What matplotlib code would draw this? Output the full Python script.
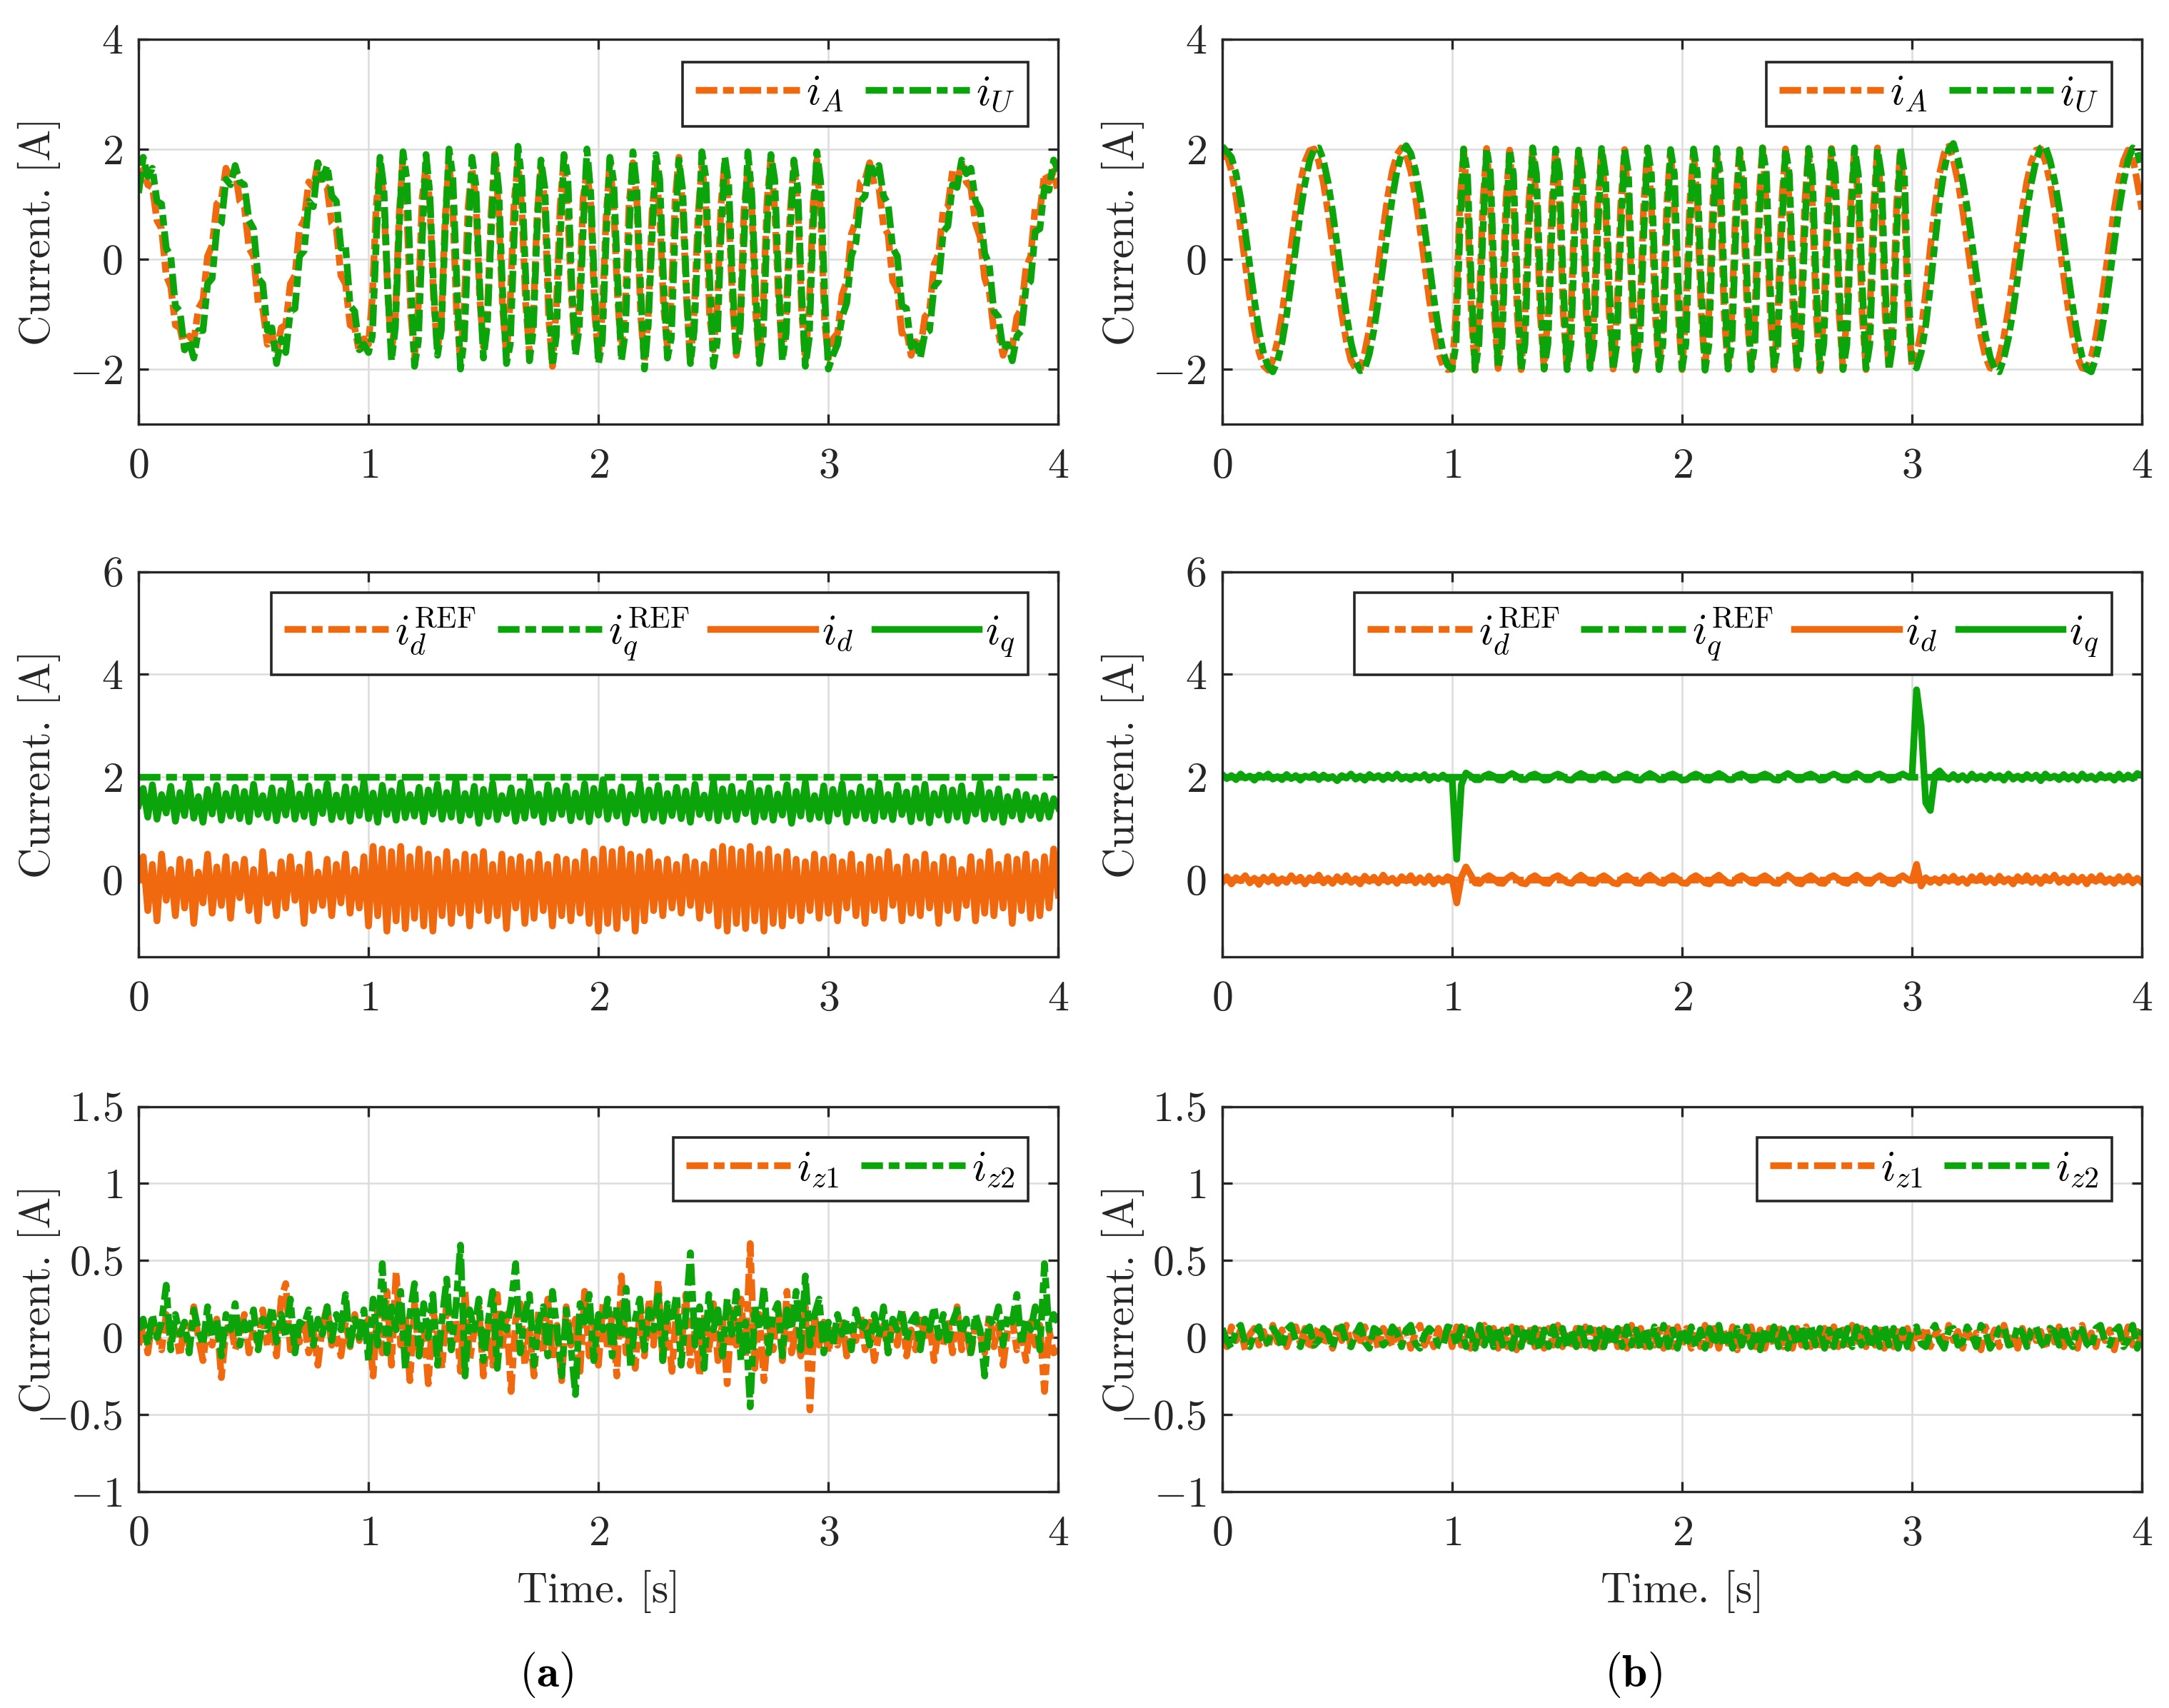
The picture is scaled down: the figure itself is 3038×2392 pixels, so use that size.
import numpy as np
import matplotlib
matplotlib.use('Agg')
import matplotlib.pyplot as plt
from matplotlib.ticker import FuncFormatter

# ---- data (each series split into 0-1 s, 1-3 s, 3-4 s) ----
# top row: phase currents
iA_a_1 = [1.30, 1.62, 1.35, 1.30, 0.70, 0.55, -0.30, -0.50, -1.20, -1.25,
          -1.65, -1.40, -1.50, -0.90, -0.75, 0.05, 0.25, 1.00, 1.10, 1.65,
          1.45, 1.60, 1.05, 0.95, 0.20, 0.05, -0.80, -0.90, -1.55, -1.35,
          -1.72, -1.25, -1.20, -0.45, -0.30, 0.55, 0.70, 1.40, 1.30, 1.75,
          1.35, 1.30, 0.65, 0.55, -0.30, -0.45, -1.20, -1.25, -1.70, -1.45]
iA_a_2 = [-1.55, -0.70, 0.95, 1.75, 1.05, -0.60,
          -1.70, -1.05, 0.80, 1.85, 0.85, -0.95,
          -1.80, -0.85, 1.10, 1.70, 1.00, -0.75,
          -1.65, -1.10, 0.75, 1.80, 0.90, -1.00,
          -1.85, -0.80, 0.95, 1.65, 1.10, -0.70,
          -1.60, -1.00, 0.85, 1.90, 0.80, -0.90,
          -1.75, -0.75, 1.05, 1.75, 0.95, -0.80,
          -1.70, -1.05, 0.80, 1.70, 1.05, -1.05,
          -1.95, -0.90, 0.95, 1.85, 0.85, -0.75,
          -1.65, -0.80, 1.10, 1.60, 1.00, -0.95,
          -1.80, -1.00, 0.75, 1.80, 0.90, -0.70,
          -1.70, -0.85, 1.00, 1.75, 1.10, -1.00,
          -1.85, -1.05, 0.85, 1.65, 0.80, -0.85,
          -1.60, -0.75, 1.05, 1.85, 0.95, -0.75,
          -1.90, -0.95, 0.80, 1.70, 1.05, -1.00,
          -1.65, -0.85, 1.00, 1.80, 0.85, -0.80,
          -1.75, -1.10, 0.90, 1.65, 1.00, -0.95,
          -1.80, -0.80, 1.05, 1.85, 0.90, -0.70,
          -1.70, -1.00, 0.80, 1.75, 1.05, -0.90,
          -1.85, -0.90, 0.95, 1.80, 0.85, -1.10]
iA_a_3 = [-1.80, -1.45, -1.35, -0.65, -0.40, 0.45, 0.70, 1.40, 1.45, 1.75,
          1.35, 1.30, 0.60, 0.45, -0.40, -0.55, -1.35, -1.30, -1.75, -1.50,
          -1.65, -1.05, -0.95, -0.10, 0.10, 0.90, 0.95, 1.60, 1.40, 1.75,
          1.40, 1.30, 0.65, 0.40, -0.35, -0.60, -1.30, -1.35, -1.75, -1.50,
          -1.60, -1.05, -0.90, -0.15, 0.05, 0.95, 0.85, 1.55, 1.40, 1.60, 1.20]

iU_a_1 = [1.20, 1.85, 1.50, 1.65, 1.05, 1.00, 0.20, 0.05, -0.85, -0.95,
          -1.65, -1.50, -1.80, -1.30, -1.30, -0.45, -0.35, 0.55, 0.65, 1.45,
          1.35, 1.70, 1.40, 1.35, 0.70, 0.55, -0.35, -0.45, -1.30, -1.25,
          -1.90, -1.45, -1.70, -0.95, -0.90, 0.05, 0.15, 1.05, 0.95, 1.75,
          1.45, 1.70, 1.15, 1.05, 0.20, 0.25, -0.85, -0.95, -1.65, -1.55]
iU_a_2 = [-1.70, -1.40, 0.30, 1.85, 1.30, -0.50,
          -1.85, -1.25, 0.55, 1.95, 1.45, -0.30,
          -1.95, -1.50, 0.35, 1.90, 1.20, -0.55,
          -1.75, -1.30, 0.50, 2.00, 1.50, -0.35,
          -2.00, -1.45, 0.30, 1.85, 1.35, -0.45,
          -1.80, -1.20, 0.45, 1.95, 1.25, -0.60,
          -1.90, -1.55, 0.40, 2.05, 1.45, -0.30,
          -1.85, -1.30, 0.55, 1.80, 1.30, -0.50,
          -1.95, -1.40, 0.30, 1.90, 1.50, -0.40,
          -1.75, -1.25, 0.50, 2.00, 1.20, -0.55,
          -1.90, -1.50, 0.35, 1.85, 1.40, -0.35,
          -1.85, -1.35, 0.45, 1.95, 1.30, -0.50,
          -2.00, -1.20, 0.40, 1.90, 1.45, -0.40,
          -1.80, -1.45, 0.50, 1.80, 1.25, -0.55,
          -1.90, -1.30, 0.30, 1.95, 1.50, -0.30,
          -1.95, -1.50, 0.45, 1.85, 1.35, -0.45,
          -1.75, -1.25, 0.35, 1.95, 1.20, -0.50,
          -1.90, -1.40, 0.55, 1.90, 1.45, -0.35,
          -1.85, -1.35, 0.40, 1.80, 1.30, -0.55,
          -1.95, -1.45, 0.50, 1.95, 1.40, -0.60]
iU_a_3 = [-2.00, -1.75, -1.55, -1.05, -0.80, 0.05, 0.30, 1.05, 1.15, 1.75,
          1.55, 1.70, 1.15, 1.00, 0.20, 0.05, -0.85, -0.90, -1.60, -1.45,
          -1.80, -1.35, -1.30, -0.50, -0.40, 0.50, 0.60, 1.35, 1.30, 1.80,
          1.55, 1.65, 1.05, 0.90, 0.10, -0.10, -0.95, -1.05, -1.65, -1.55,
          -1.85, -1.40, -1.30, -0.50, -0.40, 0.50, 0.55, 1.30, 1.25, 1.80, 1.60]

iA_b_1 = [1.85, 1.90, 1.60, 1.14, 0.56, -0.08, -0.71, -1.26, -1.69, -1.94,
          -2.02, -1.84, -1.50, -1.00, -0.40, 0.24, 0.86, 1.38, 1.77, 1.97,
          2.00, 1.77, 1.39, 0.86, 0.24, -0.40, -1.00, -1.50, -1.84, -1.99,
          -2.02, -1.69, -1.27, -0.71, -0.08, 0.55, 1.14, 1.60, 1.90, 2.02,
          1.90, 1.60, 1.14, 0.56, -0.08, -0.71, -1.26, -1.69, -1.94, -2.01]
iA_b_2 = [-2.00, -1.00, 1.00, 2.00, 1.00, -1.00,
          -2.02, -1.01, 0.99, 2.01, 1.00, -0.99,
          -1.99, -1.00, 1.01, 1.98, 0.99, -1.01,
          -2.01, -0.99, 1.00, 2.02, 1.01, -1.00,
          -2.00, -1.01, 0.99, 1.99, 1.00, -0.99,
          -2.03, -1.00, 1.00, 2.00, 0.99, -1.00,
          -1.98, -1.01, 1.01, 2.01, 1.00, -1.01,
          -2.00, -0.99, 0.99, 1.99, 1.01, -0.99,
          -2.02, -1.00, 1.00, 2.02, 1.00, -1.00,
          -2.00, -1.01, 0.99, 1.98, 0.99, -1.01,
          -2.01, -1.00, 1.01, 2.00, 1.00, -0.99,
          -1.99, -0.99, 1.00, 2.01, 1.01, -1.00,
          -2.02, -1.01, 0.99, 1.99, 1.00, -1.01,
          -2.00, -1.00, 1.00, 2.02, 0.99, -0.99,
          -2.01, -0.99, 1.01, 2.00, 1.00, -1.00,
          -1.99, -1.01, 0.99, 1.98, 1.01, -1.01,
          -2.03, -1.00, 1.00, 2.01, 1.00, -0.99,
          -2.00, -1.01, 1.01, 1.99, 0.99, -1.00,
          -2.01, -0.99, 0.99, 2.02, 1.00, -1.01,
          -2.00, -1.00, 1.00, 2.00, 1.01, -1.00]
iA_b_3 = [-1.95, -1.75, -1.30, -0.60, 0.20, 0.95, 1.55, 1.92, 2.05, 1.80,
          1.41, 0.91, 0.31, -0.31, -0.91, -1.41, -1.78, -1.98, -2.00, -1.78,
          -1.41, -0.91, -0.31, 0.31, 0.91, 1.41, 1.78, 1.98, 2.00, 1.78,
          1.41, 0.91, 0.31, -0.31, -0.91, -1.41, -1.78, -1.98, -2.00, -1.78,
          -1.41, -0.91, -0.31, 0.31, 0.91, 1.41, 1.78, 1.98, 1.85, 1.40, 0.90]

iU_b_1 = [2.05, 1.95, 1.85, 1.55, 1.10, 0.50, -0.12, -0.75, -1.30, -1.72,
          -1.96, -2.05, -1.86, -1.52, -1.02, -0.42, 0.22, 0.85, 1.38, 1.78,
          2.00, 2.02, 1.80, 1.40, 0.87, 0.25, -0.40, -1.00, -1.52, -1.86,
          -2.03, -2.00, -1.72, -1.28, -0.73, -0.10, 0.53, 1.12, 1.60, 1.92,
          2.06, 1.92, 1.62, 1.15, 0.57, -0.07, -0.70, -1.25, -1.68, -1.93]
iU_b_2 = [-2.00, -1.55, 0.45, 2.00, 1.55, -0.45,
          -2.01, -1.54, 0.44, 2.01, 1.56, -0.46,
          -1.99, -1.56, 0.46, 1.99, 1.54, -0.44,
          -2.02, -1.55, 0.45, 2.02, 1.55, -0.45,
          -2.00, -1.54, 0.44, 2.00, 1.56, -0.46,
          -2.01, -1.56, 0.46, 1.98, 1.54, -0.44,
          -1.99, -1.55, 0.45, 2.01, 1.55, -0.45,
          -2.02, -1.54, 0.44, 2.00, 1.56, -0.46,
          -2.00, -1.56, 0.46, 2.02, 1.54, -0.44,
          -2.01, -1.55, 0.45, 1.99, 1.55, -0.45,
          -1.99, -1.54, 0.44, 2.00, 1.56, -0.46,
          -2.02, -1.56, 0.46, 2.01, 1.54, -0.44,
          -2.00, -1.55, 0.45, 1.98, 1.55, -0.45,
          -2.01, -1.54, 0.44, 2.02, 1.56, -0.46,
          -1.99, -1.56, 0.46, 2.00, 1.54, -0.44,
          -2.02, -1.55, 0.45, 2.01, 1.55, -0.45,
          -2.00, -1.54, 0.44, 1.99, 1.56, -0.46,
          -2.01, -1.56, 0.46, 2.02, 1.54, -0.44,
          -1.99, -1.55, 0.45, 2.00, 1.55, -0.45,
          -2.02, -1.54, 0.44, 2.01, 1.56, -0.50]
iU_b_3 = [-1.90, -1.98, -1.70, -1.20, -0.50, 0.30, 1.05, 1.62, 2.00, 2.10,
          1.82, 1.43, 0.93, 0.33, -0.29, -0.89, -1.40, -1.78, -2.00, -2.05,
          -1.80, -1.43, -0.93, -0.33, 0.29, 0.89, 1.40, 1.80, 2.02, 2.05,
          1.80, 1.43, 0.93, 0.33, -0.29, -0.89, -1.40, -1.78, -2.00, -2.05,
          -1.80, -1.43, -0.93, -0.33, 0.29, 0.89, 1.40, 1.80, 2.02, 1.95, 1.62]

# middle row: dq currents
t_ref = [0.0, 4.0]
idref = [0.0, 0.0]
iqref = [2.0, 2.0]

iq_a_1 = [1.45, 1.78, 1.22, 1.85, 1.18, 1.66, 1.30, 1.82, 1.14, 1.70,
          1.25, 1.88, 1.20, 1.62, 1.12, 1.76, 1.28, 1.84, 1.16, 1.68,
          1.24, 1.80, 1.19, 1.72, 1.13, 1.86, 1.27, 1.64, 1.21, 1.79,
          1.15, 1.74, 1.26, 1.90, 1.18, 1.67, 1.23, 1.83, 1.11, 1.71,
          1.29, 1.87, 1.17, 1.65, 1.22, 1.81, 1.14, 1.77, 1.25, 1.92]
iq_a_2 = [1.19, 1.69, 1.12, 1.84, 1.27, 1.73, 1.16, 1.89, 1.21, 1.66,
          1.24, 1.80, 1.13, 1.75, 1.28, 1.86, 1.18, 1.70, 1.22, 1.94,
          1.15, 1.68, 1.26, 1.82, 1.10, 1.76, 1.23, 1.88, 1.17, 1.64,
          1.29, 1.79, 1.14, 1.72, 1.20, 1.91, 1.25, 1.67, 1.12, 1.85,
          1.19, 1.74, 1.27, 1.83, 1.15, 1.69, 1.22, 1.87, 1.13, 1.78,
          1.26, 1.95, 1.18, 1.71, 1.24, 1.81, 1.11, 1.66, 1.28, 1.89,
          1.16, 1.75, 1.21, 1.84, 1.14, 1.68, 1.25, 1.80, 1.19, 1.73,
          1.12, 1.86, 1.27, 1.65, 1.20, 1.92, 1.15, 1.77, 1.23, 1.82,
          1.17, 1.70, 1.29, 1.88, 1.13, 1.74, 1.22, 1.79, 1.16, 1.67,
          1.26, 1.85, 1.10, 1.72, 1.24, 1.90, 1.18, 1.64, 1.21, 1.83]
iq_a_3 = [1.14, 1.76, 1.28, 1.87, 1.12, 1.69, 1.25, 1.81, 1.19, 1.73,
          1.15, 1.89, 1.23, 1.66, 1.17, 1.84, 1.27, 1.71, 1.13, 1.78,
          1.20, 1.86, 1.11, 1.68, 1.26, 1.80, 1.16, 1.75, 1.22, 1.83,
          1.14, 1.65, 1.28, 1.88, 1.18, 1.70, 1.21, 1.77, 1.12, 1.62,
          1.24, 1.72, 1.17, 1.66, 1.25, 1.60, 1.19, 1.64, 1.22, 1.58, 1.40]

id_a_1 = [0.10, 0.45, -0.60, 0.30, -0.80, 0.50, -0.40, 0.20, -0.70, 0.40,
          -0.55, 0.35, -0.85, 0.15, -0.45, 0.50, -0.65, 0.25, -0.50, 0.45,
          -0.75, 0.30, -0.35, 0.40, -0.60, 0.20, -0.80, 0.55, -0.45, 0.10,
          -0.70, 0.35, -0.55, 0.45, -0.40, 0.25, -0.85, 0.50, -0.60, 0.15,
          -0.50, 0.40, -0.70, 0.30, -0.45, 0.50, -0.65, 0.20, -0.55, 0.45]
id_a_2 = [-0.90, 0.65, -0.70, 0.60, -1.00, 0.55, -0.80, 0.65, -0.95, 0.45,
          -0.75, 0.60, -0.90, 0.50, -1.00, 0.40, -0.70, 0.55, -0.85, 0.35,
          -0.65, 0.50, -0.90, 0.45, -0.60, 0.55, -0.80, 0.30, -0.70, 0.50,
          -0.95, 0.40, -0.55, 0.45, -0.85, 0.35, -0.75, 0.50, -0.60, 0.30,
          -0.90, 0.45, -0.70, 0.40, -0.80, 0.35, -0.65, 0.55, -0.85, 0.40,
          -1.00, 0.60, -0.85, 0.55, -0.95, 0.60, -0.75, 0.50, -1.00, 0.45,
          -0.80, 0.55, -0.60, 0.35, -0.70, 0.40, -0.55, 0.30, -0.65, 0.45,
          -0.50, 0.35, -0.75, 0.30, -0.60, 0.55, -0.90, 0.65, -1.00, 0.60,
          -0.85, 0.55, -0.95, 0.65, -0.80, 0.50, -1.00, 0.60, -0.85, 0.45,
          -0.90, 0.55, -0.70, 0.40, -0.80, 0.35, -0.60, 0.50, -0.75, 0.40]
id_a_3 = [-0.65, 0.45, -0.80, 0.35, -0.55, 0.50, -0.70, 0.30, -0.85, 0.45,
          -0.60, 0.40, -0.75, 0.55, -0.50, 0.25, -0.80, 0.45, -0.65, 0.35,
          -0.70, 0.50, -0.55, 0.30, -0.85, 0.45, -0.60, 0.40, -0.75, 0.20,
          -0.50, 0.45, -0.80, 0.35, -0.65, 0.55, -0.70, 0.30, -0.55, 0.45,
          -0.85, 0.40, -0.60, 0.50, -0.75, 0.35, -0.70, 0.45, -0.55, 0.60, -0.30]

iq_b_1 = [2.05, 1.97, 2.03, 1.95, 2.06, 1.98, 2.02, 1.94, 2.04, 1.99,
          2.06, 1.96, 2.01, 1.95, 2.05, 1.97, 2.03, 1.94, 2.02, 1.99,
          2.05, 1.95, 2.04, 1.97, 2.01, 1.93, 2.03, 1.98, 2.06, 1.96,
          2.02, 1.94, 2.05, 1.98, 2.03, 1.95, 2.04, 1.97, 2.06, 1.96,
          2.01, 1.95, 2.03, 1.98, 2.05, 1.94, 2.02, 1.97, 2.04, 1.96]
iq_b_2 = [1.98, 0.40, 1.85, 2.08, 2.02, 1.95, 1.95, 2.02, 2.06, 2.02,
          1.95, 1.94, 2.02, 2.07, 2.02, 1.95, 1.95, 2.03, 2.06, 2.01,
          1.94, 1.95, 2.02, 2.06, 2.02, 1.95, 1.94, 2.02, 2.07, 2.02,
          1.95, 1.95, 2.03, 2.06, 2.01, 1.94, 1.95, 2.02, 2.06, 2.02,
          1.95, 1.94, 2.02, 2.07, 2.02, 1.95, 1.95, 2.03, 2.06, 2.01,
          1.94, 1.95, 2.02, 2.06, 2.02, 1.95, 1.94, 2.02, 2.07, 2.02,
          1.95, 1.95, 2.03, 2.06, 2.01, 1.94, 1.95, 2.02, 2.06, 2.02,
          1.95, 1.94, 2.02, 2.07, 2.02, 1.95, 1.95, 2.03, 2.06, 2.01,
          1.94, 1.95, 2.02, 2.06, 2.02, 1.95, 1.94, 2.02, 2.07, 2.02,
          1.95, 1.95, 2.03, 2.06, 2.01, 1.94, 1.95, 2.02, 2.06, 2.01]
iq_b_3 = [2.00, 3.70, 3.00, 1.50, 1.35, 2.05, 2.12, 2.02, 1.96, 2.05,
          1.95, 2.03, 1.94, 2.06, 1.97, 2.02, 1.95, 2.05, 1.98, 2.03,
          1.94, 2.06, 1.96, 2.02, 1.95, 2.05, 1.97, 2.04, 1.93, 2.06,
          1.98, 2.02, 1.95, 2.05, 1.96, 2.03, 1.94, 2.06, 1.97, 2.02,
          1.95, 2.05, 1.98, 2.03, 1.94, 2.06, 1.96, 2.04, 1.97, 2.07, 2.03]

id_b_1 = [-0.05, 0.06, -0.08, 0.04, -0.02, 0.08, -0.06, 0.03, -0.09, 0.05,
          -0.04, 0.07, -0.07, 0.02, -0.05, 0.08, -0.03, 0.05, -0.08, 0.04,
          -0.02, 0.09, -0.06, 0.03, -0.07, 0.06, -0.04, 0.08, -0.05, 0.02,
          -0.08, 0.07, -0.03, 0.05, -0.06, 0.09, -0.04, 0.03, -0.07, 0.06,
          -0.02, 0.08, -0.06, 0.04, -0.05, 0.07, -0.08, 0.03, -0.04, 0.06]
id_b_2 = [0.02, -0.45, 0.05, 0.25, 0.10, -0.06, -0.07, 0.03, 0.08, 0.02,
          -0.06, -0.07, 0.03, 0.09, 0.02, -0.06, -0.08, 0.03, 0.08, 0.01,
          -0.06, -0.07, 0.04, 0.08, 0.02, -0.05, -0.07, 0.03, 0.09, 0.02,
          -0.06, -0.07, 0.03, 0.08, 0.02, -0.06, -0.08, 0.03, 0.08, 0.01,
          -0.06, -0.07, 0.04, 0.09, 0.02, -0.05, -0.07, 0.03, 0.08, 0.02,
          -0.06, -0.07, 0.03, 0.08, 0.02, -0.06, -0.08, 0.03, 0.09, 0.01,
          -0.06, -0.07, 0.04, 0.08, 0.02, -0.05, -0.07, 0.03, 0.08, 0.02,
          -0.06, -0.07, 0.03, 0.09, 0.02, -0.06, -0.08, 0.03, 0.08, 0.01,
          -0.06, -0.07, 0.04, 0.08, 0.02, -0.05, -0.07, 0.03, 0.09, 0.02,
          -0.06, -0.07, 0.03, 0.08, 0.02, -0.06, -0.08, 0.03, 0.08, 0.01]
id_b_3 = [-0.02, 0.30, -0.12, 0.04, -0.05, 0.02, -0.06, 0.05, -0.03, 0.07,
          -0.05, 0.02, -0.07, 0.06, -0.02, 0.08, -0.05, 0.03, -0.06, 0.07,
          -0.04, 0.02, -0.08, 0.06, -0.03, 0.08, -0.05, 0.04, -0.07, 0.06,
          -0.02, 0.09, -0.05, 0.03, -0.06, 0.07, -0.04, 0.05, -0.08, 0.06,
          -0.03, 0.08, -0.05, 0.02, -0.07, 0.06, -0.04, 0.07, -0.06, 0.03, -0.05]

# bottom row: zero-sequence currents
iz1_a_1 = [-0.05, 0.08, -0.10, 0.12, 0.02, -0.08, 0.15, -0.02, 0.05, -0.12,
           0.10, -0.06, 0.20, 0.00, -0.15, 0.08, -0.05, 0.12, -0.26, 0.05,
           0.10, -0.08, 0.02, 0.15, -0.10, 0.06, -0.04, 0.18, -0.06, 0.08,
           -0.12, 0.25, 0.35, -0.08, 0.10, -0.03, 0.12, -0.10, 0.05, -0.18,
           0.08, 0.20, -0.05, 0.02, -0.12, 0.10, -0.06, 0.15, -0.02, 0.06]
iz1_a_2 = [0.12, -0.25, 0.20, -0.10, 0.30, -0.18, 0.43, -0.05, 0.15, -0.28,
           0.22, -0.12, 0.08, -0.30, 0.18, 0.02, -0.20, 0.25, -0.08, 0.12,
           -0.22, 0.30, -0.15, 0.05, 0.20, -0.25, 0.10, -0.18, 0.28, -0.08,
           0.15, -0.35, 0.12, 0.22, -0.18, 0.05, -0.25, 0.18, -0.10, 0.25,
           -0.15, 0.08, -0.28, 0.20, -0.05, 0.12, -0.22, 0.30, -0.12, 0.10,
           -0.18, 0.22, -0.08, 0.15, -0.25, 0.40, -0.10, 0.05, -0.20, 0.18,
           -0.12, 0.25, -0.05, 0.37, -0.15, 0.10, -0.22, 0.20, -0.08, 0.28,
           -0.18, 0.05, -0.25, 0.15, -0.10, 0.22, -0.15, 0.12, -0.30, 0.18,
           -0.05, 0.25, -0.12, 0.61, -0.20, 0.15, -0.28, 0.10, -0.08, 0.22,
           -0.15, 0.30, -0.10, 0.05, -0.12, 0.20, -0.47, 0.15, -0.05, 0.10]
iz1_a_3 = [-0.10, 0.08, -0.05, 0.12, -0.12, 0.05, -0.02, 0.15, -0.08, 0.10,
           -0.15, 0.02, 0.08, -0.10, 0.12, -0.05, 0.18, -0.12, 0.05, -0.08,
           0.15, -0.02, 0.10, -0.15, 0.06, -0.05, 0.12, -0.10, 0.20, -0.08,
           0.05, -0.12, 0.10, 0.02, -0.10, 0.15, -0.06, 0.08, -0.18, 0.05,
           0.12, -0.08, 0.02, -0.15, 0.10, -0.05, 0.08, -0.35, 0.05, -0.10, -0.08]

iz2_a_1 = [0.05, 0.12, -0.05, 0.15, 0.00, 0.10, 0.34, -0.08, 0.15, 0.02,
           0.10, -0.10, 0.18, 0.05, -0.05, 0.20, 0.00, 0.12, -0.12, 0.15,
           0.05, 0.22, -0.05, 0.10, 0.02, 0.18, -0.08, 0.12, 0.05, 0.20,
           -0.03, 0.15, 0.00, 0.25, -0.10, 0.10, 0.08, 0.18, -0.05, 0.12,
           0.02, 0.20, -0.02, 0.15, 0.05, 0.28, -0.05, 0.12, 0.00, 0.18]
iz2_a_2 = [-0.15, 0.25, -0.05, 0.48, -0.10, 0.20, 0.05, 0.30, -0.20, 0.15,
           0.35, -0.12, 0.22, 0.00, 0.28, -0.18, 0.12, 0.38, -0.08, 0.20,
           0.60, -0.25, 0.18, 0.05, 0.25, -0.15, 0.10, 0.30, -0.20, 0.15,
           0.05, 0.22, 0.48, -0.10, 0.15, 0.28, -0.18, 0.10, 0.20, -0.12,
           0.30, 0.05, -0.25, 0.18, -0.05, -0.37, 0.22, 0.10, 0.28, -0.15,
           0.15, 0.05, 0.25, -0.12, 0.20, 0.00, 0.32, -0.20, 0.12, 0.25,
           -0.08, 0.18, 0.05, 0.30, -0.15, 0.22, 0.10, 0.28, -0.18, 0.15,
           0.55, -0.05, 0.20, -0.20, 0.28, 0.05, 0.18, -0.12, 0.25, 0.02,
           0.30, -0.15, 0.10, -0.45, 0.20, 0.05, 0.33, -0.10, 0.15, 0.22,
           -0.12, 0.18, 0.05, 0.30, -0.08, 0.40, -0.05, 0.15, 0.25, -0.10]
iz2_a_3 = [0.10, -0.05, 0.15, 0.02, 0.12, -0.08, 0.18, 0.05, 0.10, -0.05,
           0.15, 0.00, 0.20, -0.10, 0.12, 0.05, 0.18, -0.02, 0.10, 0.15,
           -0.08, 0.12, 0.05, 0.20, 0.00, 0.15, -0.05, 0.10, 0.18, 0.02,
           0.12, -0.10, 0.15, 0.05, -0.25, 0.12, 0.08, 0.20, -0.05, 0.15,
           0.10, 0.28, -0.05, 0.12, 0.05, 0.20, -0.08, 0.48, 0.05, 0.15, 0.10]

iz1_b_1 = [0.03, -0.06, 0.07, -0.02, 0.05, -0.08, 0.02, 0.06, -0.05, 0.04,
           -0.07, 0.08, -0.03, 0.05, -0.06, 0.02, 0.07, -0.04, 0.06, -0.08,
           0.01, 0.07, -0.05, 0.04, -0.07, 0.06, -0.02, 0.08, -0.06, 0.03,
           -0.05, 0.07, -0.03, 0.05, -0.08, 0.06, 0.02, -0.06, 0.07, -0.04,
           0.05, -0.07, 0.03, 0.08, -0.05, 0.02, -0.06, 0.06, -0.03, 0.07]
iz1_b_2 = [-0.06, 0.07, -0.05, 0.06, -0.07, 0.05, -0.06, 0.08, -0.05, 0.06,
           -0.07, 0.05, -0.06, 0.07, -0.08, 0.06, -0.05, 0.07, -0.06, 0.05,
           -0.07, 0.06, -0.05, 0.08, -0.06, 0.05, -0.07, 0.06, -0.05, 0.07,
           -0.06, 0.05, -0.08, 0.06, -0.05, 0.07, -0.06, 0.05, -0.07, 0.08,
           -0.05, 0.06, -0.06, 0.07, -0.05, 0.05, -0.07, 0.06, -0.06, 0.07,
           -0.05, 0.06, -0.07, 0.05, -0.06, 0.08, -0.05, 0.06, -0.07, 0.05,
           -0.06, 0.07, -0.08, 0.06, -0.05, 0.07, -0.06, 0.05, -0.07, 0.06,
           -0.05, 0.08, -0.06, 0.05, -0.07, 0.06, -0.05, 0.07, -0.06, 0.05,
           -0.08, 0.06, -0.05, 0.07, -0.06, 0.05, -0.07, 0.08, -0.05, 0.06,
           -0.06, 0.07, -0.05, 0.05, -0.07, 0.06, -0.06, 0.07, -0.05, 0.06]
iz1_b_3 = [-0.07, 0.05, -0.03, 0.07, -0.06, 0.02, 0.06, -0.05, 0.08, -0.02,
           0.04, -0.07, 0.06, -0.04, 0.03, -0.08, 0.07, -0.02, 0.05, -0.06,
           0.08, -0.03, 0.02, -0.07, 0.06, -0.05, 0.07, -0.02, 0.04, -0.08,
           0.06, -0.03, 0.07, -0.06, 0.02, 0.05, -0.07, 0.08, -0.04, 0.03,
           -0.06, 0.07, -0.02, 0.05, -0.08, 0.06, -0.03, 0.07, -0.05, 0.04, -0.06]

iz2_b_1 = [0.06, -0.02, -0.07, 0.05, 0.08, -0.04, -0.06, 0.03, 0.07, -0.05,
           -0.03, 0.06, 0.02, -0.07, 0.05, 0.08, -0.02, -0.06, 0.04, 0.07,
           -0.05, -0.02, 0.06, 0.03, -0.07, 0.05, 0.07, -0.04, -0.06, 0.02,
           0.08, -0.03, -0.07, 0.06, 0.04, -0.05, -0.02, 0.07, 0.03, -0.06,
           0.05, 0.08, -0.04, -0.07, 0.02, 0.06, 0.03, -0.05, -0.06, 0.07]
iz2_b_2 = [0.06, -0.05, 0.07, -0.06, 0.05, -0.07, 0.08, -0.05, 0.06, -0.06,
           0.07, -0.05, 0.05, -0.07, 0.06, -0.06, 0.07, -0.05, 0.06, -0.08,
           0.05, -0.06, 0.07, -0.05, 0.06, -0.07, 0.05, -0.06, 0.08, -0.05,
           0.06, -0.07, 0.05, -0.06, 0.07, -0.05, 0.06, -0.06, 0.07, -0.05,
           0.05, -0.07, 0.06, -0.06, 0.07, -0.05, 0.08, -0.06, 0.05, -0.07,
           0.06, -0.05, 0.07, -0.06, 0.05, -0.07, 0.06, -0.05, 0.08, -0.06,
           0.05, -0.07, 0.06, -0.05, 0.07, -0.06, 0.05, -0.08, 0.06, -0.05,
           0.07, -0.06, 0.05, -0.07, 0.06, -0.05, 0.07, -0.06, 0.08, -0.05,
           0.06, -0.07, 0.05, -0.06, 0.07, -0.05, 0.06, -0.06, 0.07, -0.05,
           0.05, -0.07, 0.06, -0.06, 0.08, -0.05, 0.06, -0.07, 0.05, -0.06]
iz2_b_3 = [0.05, 0.07, -0.04, -0.06, 0.03, 0.08, -0.02, -0.07, 0.05, 0.06,
           -0.05, -0.03, 0.07, 0.02, -0.06, 0.08, 0.04, -0.07, -0.02, 0.06,
           0.07, -0.05, -0.04, 0.08, 0.03, -0.06, 0.05, 0.07, -0.03, -0.07,
           0.06, 0.04, -0.05, 0.08, -0.02, -0.06, 0.07, 0.05, -0.04, -0.07,
           0.06, 0.08, -0.03, -0.05, 0.04, 0.07, -0.06, -0.02, 0.08, -0.07, 0.05]

# ---- styling ----
ORANGE = '#F0690F'
GREEN = '#0BA50B'
DARK = '#262626'
FS = 21.5
LW = 3.4
DASHDOT = (0, (3.2, 0.85, 1.6, 0.85))

plt.rcParams['font.family'] = 'cmr10'
plt.rcParams['mathtext.fontset'] = 'cm'
plt.rcParams['axes.formatter.use_mathtext'] = True


def seg_time(p1, p2, p3):
    return np.concatenate([np.linspace(0, 1, len(p1), endpoint=False),
                           np.linspace(1, 3, len(p2), endpoint=False),
                           np.linspace(3, 4, len(p3))])


def series(p1, p2, p3):
    return seg_time(p1, p2, p3), np.array(p1 + p2 + p3)


def style_axes(ax, ylim, yticks):
    ax.set_xlim(0, 4)
    ax.set_ylim(*ylim)
    ax.set_xticks([0, 1, 2, 3, 4])
    ax.set_yticks(yticks)
    fmt = FuncFormatter(lambda v, p: f'${v:g}$')
    ax.xaxis.set_major_formatter(fmt)
    ax.yaxis.set_major_formatter(fmt)
    ax.grid(True, color='#DCDCDC', lw=0.9)
    ax.set_axisbelow(True)
    for s in ax.spines.values():
        s.set_linewidth(1.2)
        s.set_color(DARK)
    ax.tick_params(direction='in', length=5, width=1.2, top=True, right=True,
                   labelsize=FS, colors=DARK)
    ax.tick_params(axis='x', pad=12)
    ax.tick_params(axis='y', pad=8)
    ax.set_ylabel('Current. [A]', fontsize=FS, color=DARK)
    ax.yaxis.set_label_coords(-0.108, 0.5)
    ax.yaxis.label.set_va('center')


def add_legend(ax, top):
    n = len(ax.get_legend_handles_labels()[0])
    leg = ax.legend(loc='upper right', bbox_to_anchor=(0.967, top), ncol=n,
                    fontsize=FS, frameon=True, fancybox=False, edgecolor=DARK,
                    framealpha=1, borderpad=0.3, handlelength=2.45,
                    handletextpad=0.15, columnspacing=0.5, borderaxespad=0)
    leg.get_frame().set_linewidth(1.3)


fig = plt.figure(figsize=(15.19, 11.96), dpi=200)
W = 0.424
H = 0.2255
lefts = [0.0639, 0.5635]
bottoms = [0.7517, 0.4398, 0.1267]
axs = [[fig.add_axes([l, b, W, H]) for l in lefts] for b in bottoms]

# top row
for ax, (a1, a2, a3), (u1, u2, u3) in [
        (axs[0][0], (iA_a_1, iA_a_2, iA_a_3), (iU_a_1, iU_a_2, iU_a_3)),
        (axs[0][1], (iA_b_1, iA_b_2, iA_b_3), (iU_b_1, iU_b_2, iU_b_3))]:
    t, y = series(a1, a2, a3)
    ax.plot(t, y, color=ORANGE, lw=LW, ls=DASHDOT, label=r'$i_A$')
    t, y = series(u1, u2, u3)
    ax.plot(t, y, color=GREEN, lw=LW, ls=DASHDOT, label=r'$i_U$')
    style_axes(ax, (-3, 4), [-2, 0, 2, 4])
    add_legend(ax, 0.94)

# middle row
for ax, (d1, d2, d3), (q1, q2, q3) in [
        (axs[1][0], (id_a_1, id_a_2, id_a_3), (iq_a_1, iq_a_2, iq_a_3)),
        (axs[1][1], (id_b_1, id_b_2, id_b_3), (iq_b_1, iq_b_2, iq_b_3))]:
    ax.plot(t_ref, idref, color=ORANGE, lw=LW, ls=DASHDOT, label=r'$i_d^{\mathrm{REF}}$')
    ax.plot(t_ref, iqref, color=GREEN, lw=LW, ls=DASHDOT, label=r'$i_q^{\mathrm{REF}}$')
    t, y = series(d1, d2, d3)
    ax.plot(t, y, color=ORANGE, lw=LW, label=r'$i_d$')
    t, y = series(q1, q2, q3)
    ax.plot(t, y, color=GREEN, lw=LW, label=r'$i_q$')
    style_axes(ax, (-1.5, 6), [0, 2, 4, 6])
    add_legend(ax, 0.945)

# bottom row
for ax, (z1, z2, z3), (w1, w2, w3) in [
        (axs[2][0], (iz1_a_1, iz1_a_2, iz1_a_3), (iz2_a_1, iz2_a_2, iz2_a_3)),
        (axs[2][1], (iz1_b_1, iz1_b_2, iz1_b_3), (iz2_b_1, iz2_b_2, iz2_b_3))]:
    t, y = series(z1, z2, z3)
    ax.plot(t, y, color=ORANGE, lw=LW, ls=DASHDOT, label=r'$i_{z1}$')
    t, y = series(w1, w2, w3)
    ax.plot(t, y, color=GREEN, lw=LW, ls=DASHDOT, label=r'$i_{z2}$')
    style_axes(ax, (-1, 1.5), [-1, -0.5, 0, 0.5, 1, 1.5])
    add_legend(ax, 0.92)
    ax.set_xlabel('Time. [s]', fontsize=FS, color=DARK)
    ax.xaxis.set_label_coords(0.5, -0.259)
    ax.xaxis.label.set_va('center')

fig.text(0.252, 0.005, r'$(\mathbf{a})$', ha='center', va='bottom', fontsize=23)
fig.text(0.753, 0.005, r'$(\mathbf{b})$', ha='center', va='bottom', fontsize=23)

fig.savefig('out.png', dpi=200)
